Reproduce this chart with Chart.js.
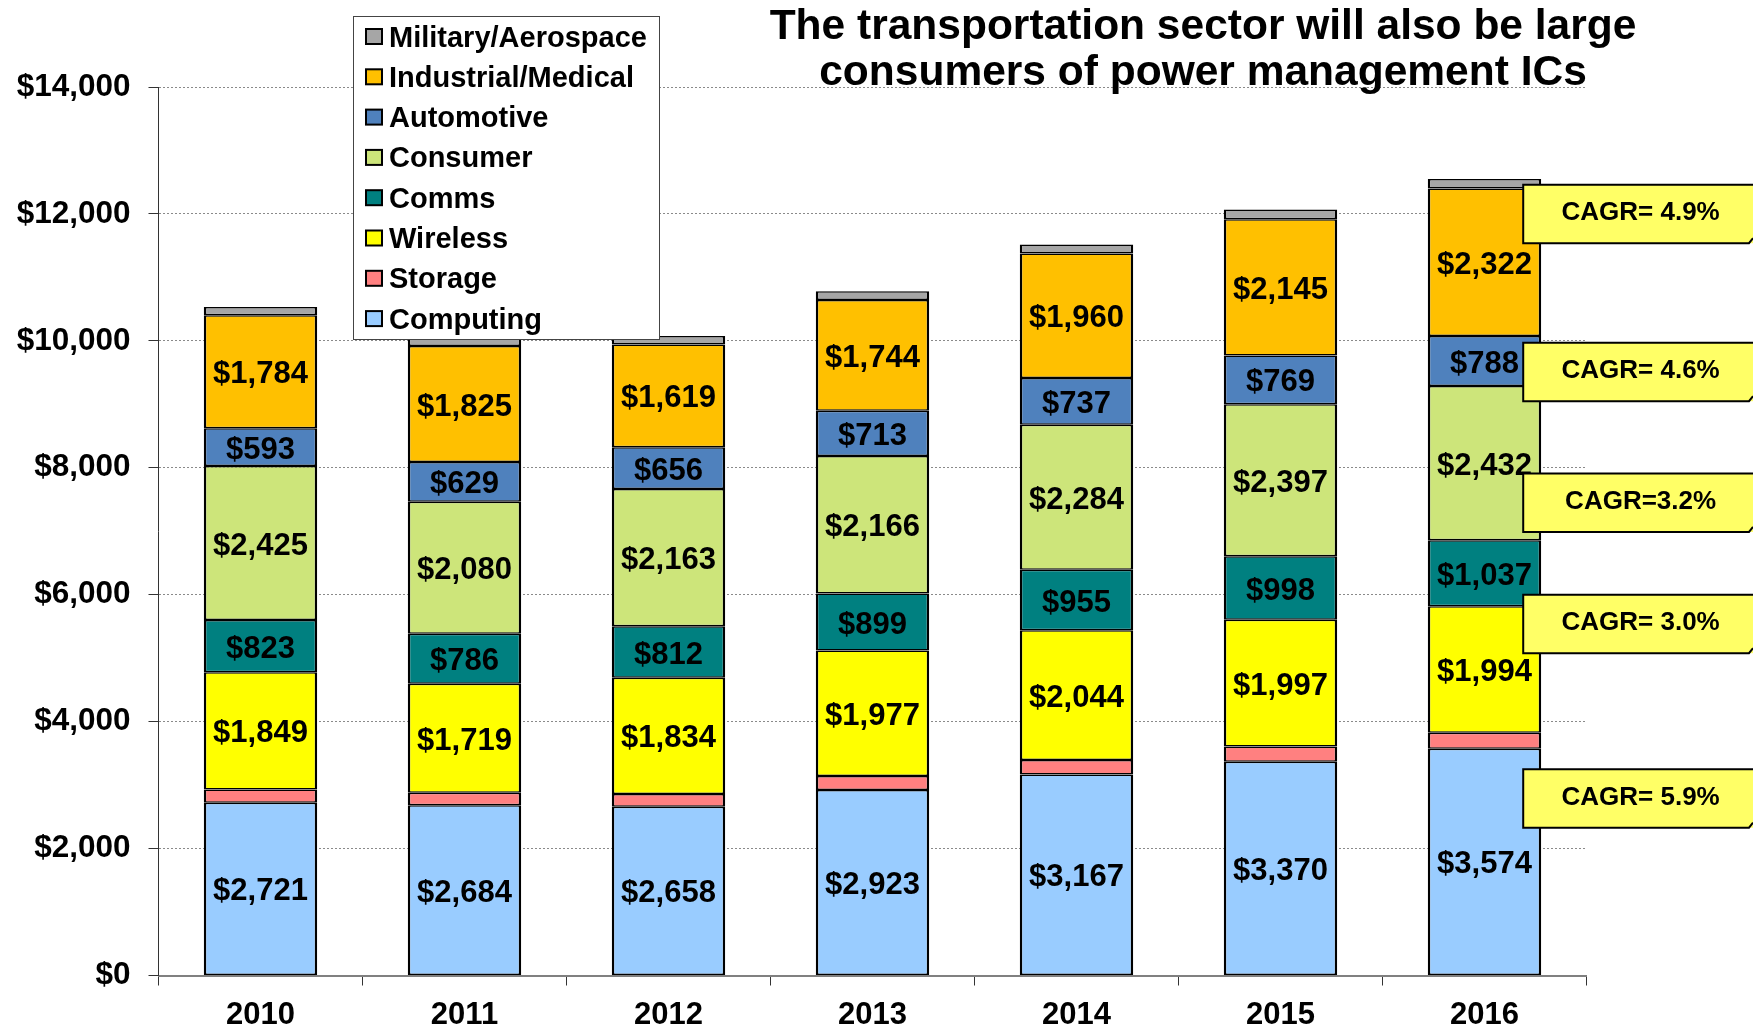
<!DOCTYPE html>
<html>
<head>
<meta charset="utf-8">
<script src="https://cdn.jsdelivr.net/npm/chart.js@4.4.0/dist/chart.umd.min.js"></script>
<style>
  html, body { margin: 0; padding: 0; background: #ffffff; }
  #wrap { position: relative; width: 1753px; height: 1029px; }
</style>
</head>
<body>
<div id="wrap"><canvas id="c"></canvas></div>
<script>
// ---- data ----
const categories = ['2010', '2011', '2012', '2013', '2014', '2015', '2016'];
const computing  = [2721, 2684, 2658, 2923, 3167, 3370, 3574];
const storage    = [210, 195, 200, 220, 228, 240, 252];
const wireless   = [1849, 1719, 1834, 1977, 2044, 1997, 1994];
const comms      = [823, 786, 812, 899, 955, 998, 1037];
const consumer   = [2425, 2080, 2163, 2166, 2284, 2397, 2432];
const automotive = [593, 629, 656, 713, 737, 769, 788];
const industrial = [1784, 1825, 1619, 1744, 1960, 2145, 2322];
const military   = [128, 125, 135, 138, 145, 155, 150];
const seriesNames = ['Computing', 'Storage', 'Wireless', 'Comms', 'Consumer', 'Automotive', 'Industrial/Medical', 'Military/Aerospace'];
const yMax = 14000;
const yStep = 2000;
const cagrLabels = ['CAGR= 4.9%', 'CAGR= 4.6%', 'CAGR=3.2%', 'CAGR= 3.0%', 'CAGR= 5.9%'];
const cagrAt = [12000, 9510, 7450, 5540, 2790];
const titleLines = ['The transportation sector will also be large', 'consumers of power management ICs'];

const FONT = '"Liberation Sans", Arial, Helvetica, sans-serif';
const colors = ['#99CCFF', '#FF8080', '#FFFF00', '#008080', '#CDE57A', '#4F81BD', '#FFC000', '#A6A6A6'];
const labelled = [true, false, true, true, true, true, true, false];
const seriesData = [computing, storage, wireless, comms, consumer, automotive, industrial, military];

const fmt = v => '$' + v.toLocaleString('en-US');

const datasets = seriesData.map((d, i) => ({
  label: seriesNames[i],
  data: d,
  backgroundColor: colors[i],
  borderColor: '#000000',
  borderWidth: { left: 2.5, right: 2.5, top: 1.5, bottom: 1.5 },
  borderSkipped: false,
  categoryPercentage: 1.0,
  barPercentage: 0.556,
  showValue: labelled[i]
}));

const valueLabels = {
  id: 'valueLabels',
  afterDatasetsDraw(chart) {
    const ctx = chart.ctx;
    ctx.save();
    ctx.font = 'bold 31px ' + FONT;
    ctx.fillStyle = '#000';
    ctx.textAlign = 'center';
    ctx.textBaseline = 'middle';
    chart.data.datasets.forEach((ds, di) => {
      if (!ds.showValue) return;
      const meta = chart.getDatasetMeta(di);
      meta.data.forEach((el, i) => {
        const yc = (el.y + el.base) / 2;
        ctx.fillText(fmt(ds.data[i]), el.x, yc + 3);
      });
    });
    ctx.restore();
  }
};

const overlay = {
  id: 'overlay',
  afterDraw(chart) {
    const ctx = chart.ctx;
    const ys = chart.scales.y;
    ctx.save();
    // Title
    ctx.fillStyle = '#000';
    ctx.textAlign = 'center';
    ctx.textBaseline = 'alphabetic';
    ctx.font = 'bold 42.5px ' + FONT;
    ctx.fillText(titleLines[0], 1203, 39, 872);
    ctx.fillText(titleLines[1], 1203, 85, 772);

    // Legend box
    const lx = 353, ly = 16, lw = 306, lh = 323;
    ctx.fillStyle = '#fff';
    ctx.fillRect(lx, ly, lw, lh);
    ctx.strokeStyle = '#444';
    ctx.lineWidth = 1;
    ctx.strokeRect(lx + 0.5, ly + 0.5, lw, lh);
    ctx.font = 'bold 29px ' + FONT;
    ctx.textAlign = 'left';
    ctx.textBaseline = 'middle';
    const n = chart.data.datasets.length;
    for (let k = 0; k < n; k++) {
      const ds = chart.data.datasets[n - 1 - k];
      const cy = 36.5 + k * 40.3;
      ctx.fillStyle = ds.backgroundColor;
      ctx.fillRect(366, cy - 7.5, 16, 15);
      ctx.strokeStyle = '#000';
      ctx.lineWidth = 2;
      ctx.strokeRect(366, cy - 7.5, 16, 15);
      ctx.fillStyle = '#000';
      ctx.fillText(ds.label, 389, cy + 2);
    }

    // CAGR callouts
    const lastMeta = chart.getDatasetMeta(0);
    const lastBar = lastMeta.data[lastMeta.data.length - 1];
    const bx = lastBar.x + lastBar.width / 2 - 18;
    const bw = 1758 - bx;
    const bh = 58.5;
    cagrLabels.forEach((t, i) => {
      const cy = ys.getPixelForValue(cagrAt[i]);
      const top = cy - bh / 2;
      ctx.fillStyle = '#FFFF66';
      ctx.fillRect(bx, top, bw, bh);
      ctx.strokeStyle = '#000';
      ctx.lineWidth = 2;
      ctx.beginPath();
      ctx.moveTo(1760, top);
      ctx.lineTo(bx, top);
      ctx.lineTo(bx, top + bh);
      ctx.lineTo(1749, top + bh);
      ctx.lineTo(1753, top + bh - 5);
      ctx.stroke();
      ctx.fillStyle = '#000';
      ctx.font = 'bold 26px ' + FONT;
      ctx.textAlign = 'center';
      ctx.textBaseline = 'middle';
      ctx.fillText(t, bx + bw / 2, cy - 1);
    });
    ctx.restore();
  }
};

new Chart(document.getElementById('c'), {
  type: 'bar',
  data: { labels: categories, datasets },
  plugins: [valueLabels, overlay],
  options: {
    responsive: true,
    maintainAspectRatio: false,
    animation: false,
    layout: { padding: { top: 87, right: 166.5, left: 0, bottom: 0 } },
    plugins: { legend: { display: false }, tooltip: { enabled: false }, title: { display: false } },
    scales: {
      x: {
        stacked: true,
        offset: true,
        grid: { display: true, drawOnChartArea: false, drawTicks: true, tickLength: 10, offset: true, color: '#333', tickColor: '#333', lineWidth: 1 },
        border: { display: true, color: '#808080', width: 2 },
        ticks: { color: '#000', font: { family: FONT, size: 31, weight: 'bold' }, padding: 11, maxRotation: 0 },
        afterFit(scale) { scale.height = 53.5; }
      },
      y: {
        stacked: true,
        min: 0,
        max: yMax,
        grid: { color: '#8a8a8a', lineWidth: 1, drawTicks: true, tickLength: 10, tickColor: '#333' },
        border: { display: true, color: '#333', width: 1, dash: [2, 2] },
        ticks: { stepSize: yStep, color: '#000', font: { family: FONT, size: 31.5, weight: 'bold' }, padding: 18, callback: v => fmt(v) },
        afterFit(scale) { scale.width = 158.5; }
      }
    }
  }
});
</script>
</body>
</html>
